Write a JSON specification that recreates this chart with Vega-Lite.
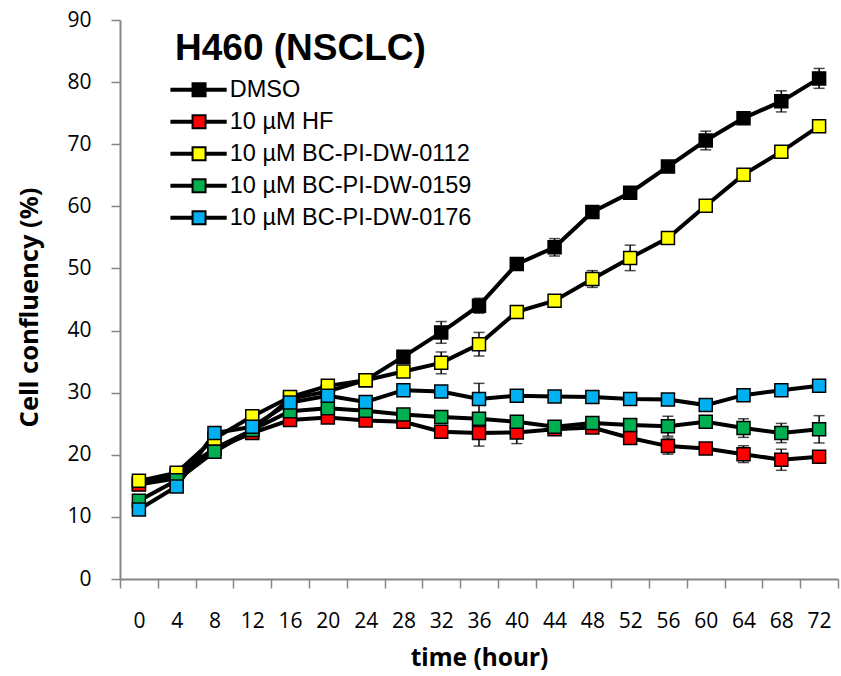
{
"$schema": "https://vega.github.io/schema/vega-lite/v6.json",
"width": 718, "height": 559,
"autosize": "none",
"padding": {"left": 120, "top": 20, "right": 3, "bottom": 97},
"background": "white",
"config": {
 "view": {"stroke": null},
 "axisX": {"tickBand": "extent", "domainColor": "#868686", "domainWidth": 2, "tickColor": "#868686", "tickWidth": 1.5, "tickSize": 9, "labelFont": "Open Sans", "labelFontSize": 21, "labelColor": "black", "labelPadding": 22, "labelAngle": 0, "titleFont": "Noto Sans", "titleFontSize": 24.5, "titleFontWeight": "bold", "titleColor": "black", "titlePadding": 15, "grid": false},
 "axisY": {"domainColor": "#868686", "domainWidth": 2, "tickColor": "#868686", "tickWidth": 1.5, "tickSize": 9, "labelFont": "Open Sans", "labelFontSize": 21, "labelColor": "black", "labelPadding": 20, "titleFont": "Noto Sans", "titleFontSize": 25.5, "titleFontWeight": "bold", "titleColor": "black", "titlePadding": 24, "titleY": 287, "grid": false},
 "legend": {"orient": "none", "legendX": 55, "legendY": 11, "titleFont": "Liberation Sans", "titleFontSize": 37, "titleFontWeight": "bold", "titleColor": "black", "titlePadding": 10, "titleLimit": 600, "labelLimit": 600, "labelFont": "Liberation Sans", "labelFontSize": 23.5, "labelColor": "black", "rowPadding": 7}
},
"data": {"values": [
{"s":"DMSO","t":0,"v":15.3,"lo":14.8,"hi":15.8},
{"s":"DMSO","t":4,"v":16.8,"lo":16.3,"hi":17.3},
{"s":"DMSO","t":8,"v":21.0,"lo":20.5,"hi":21.5},
{"s":"DMSO","t":12,"v":24.0,"lo":23.5,"hi":24.5},
{"s":"DMSO","t":16,"v":29.0,"lo":28.5,"hi":29.5},
{"s":"DMSO","t":20,"v":30.2,"lo":29.7,"hi":30.7},
{"s":"DMSO","t":24,"v":32.0,"lo":31.5,"hi":32.5},
{"s":"DMSO","t":28,"v":35.8,"lo":35.3,"hi":36.3},
{"s":"DMSO","t":32,"v":39.7,"lo":37.95,"hi":41.45},
{"s":"DMSO","t":36,"v":44.0,"lo":42.8,"hi":45.2},
{"s":"DMSO","t":40,"v":50.7,"lo":50.2,"hi":51.2},
{"s":"DMSO","t":44,"v":53.4,"lo":52.0,"hi":54.8},
{"s":"DMSO","t":48,"v":59.1,"lo":58.3,"hi":59.9},
{"s":"DMSO","t":52,"v":62.2,"lo":61.7,"hi":62.7},
{"s":"DMSO","t":56,"v":66.4,"lo":65.7,"hi":67.1},
{"s":"DMSO","t":60,"v":70.6,"lo":69.1,"hi":72.1},
{"s":"DMSO","t":64,"v":74.2,"lo":73.5,"hi":74.9},
{"s":"DMSO","t":68,"v":76.9,"lo":75.2,"hi":78.6},
{"s":"DMSO","t":72,"v":80.6,"lo":79.0,"hi":82.2},
{"s":"10 µM HF","t":0,"v":15.2,"lo":14.7,"hi":15.7},
{"s":"10 µM HF","t":4,"v":16.2,"lo":15.7,"hi":16.7},
{"s":"10 µM HF","t":8,"v":21.0,"lo":20.5,"hi":21.5},
{"s":"10 µM HF","t":12,"v":23.5,"lo":23.0,"hi":24.0},
{"s":"10 µM HF","t":16,"v":25.6,"lo":25.1,"hi":26.1},
{"s":"10 µM HF","t":20,"v":26.0,"lo":25.5,"hi":26.5},
{"s":"10 µM HF","t":24,"v":25.5,"lo":25.0,"hi":26.0},
{"s":"10 µM HF","t":28,"v":25.3,"lo":24.8,"hi":25.8},
{"s":"10 µM HF","t":32,"v":23.7,"lo":23.2,"hi":24.2},
{"s":"10 µM HF","t":36,"v":23.5,"lo":21.4,"hi":25.6},
{"s":"10 µM HF","t":40,"v":23.6,"lo":21.8,"hi":25.4},
{"s":"10 µM HF","t":44,"v":24.1,"lo":23.6,"hi":24.6},
{"s":"10 µM HF","t":48,"v":24.4,"lo":23.9,"hi":24.9},
{"s":"10 µM HF","t":52,"v":22.7,"lo":22.2,"hi":23.2},
{"s":"10 µM HF","t":56,"v":21.4,"lo":20.1,"hi":22.7},
{"s":"10 µM HF","t":60,"v":21.0,"lo":20.5,"hi":21.5},
{"s":"10 µM HF","t":64,"v":20.1,"lo":18.75,"hi":21.45},
{"s":"10 µM HF","t":68,"v":19.2,"lo":17.5,"hi":20.9},
{"s":"10 µM HF","t":72,"v":19.7,"lo":19.2,"hi":20.2},
{"s":"10 µM BC-PI-DW-0112","t":0,"v":15.8,"lo":15.3,"hi":16.3},
{"s":"10 µM BC-PI-DW-0112","t":4,"v":17.1,"lo":16.6,"hi":17.6},
{"s":"10 µM BC-PI-DW-0112","t":8,"v":22.6,"lo":22.1,"hi":23.1},
{"s":"10 µM BC-PI-DW-0112","t":12,"v":26.2,"lo":25.7,"hi":26.7},
{"s":"10 µM BC-PI-DW-0112","t":16,"v":29.3,"lo":28.8,"hi":29.8},
{"s":"10 µM BC-PI-DW-0112","t":20,"v":31.1,"lo":30.6,"hi":31.6},
{"s":"10 µM BC-PI-DW-0112","t":24,"v":32.0,"lo":31.5,"hi":32.5},
{"s":"10 µM BC-PI-DW-0112","t":28,"v":33.4,"lo":32.9,"hi":33.9},
{"s":"10 µM BC-PI-DW-0112","t":32,"v":34.8,"lo":33.05,"hi":36.55},
{"s":"10 µM BC-PI-DW-0112","t":36,"v":37.8,"lo":35.9,"hi":39.7},
{"s":"10 µM BC-PI-DW-0112","t":40,"v":43.0,"lo":42.5,"hi":43.5},
{"s":"10 µM BC-PI-DW-0112","t":44,"v":44.8,"lo":44.3,"hi":45.3},
{"s":"10 µM BC-PI-DW-0112","t":48,"v":48.3,"lo":46.95,"hi":49.65},
{"s":"10 µM BC-PI-DW-0112","t":52,"v":51.7,"lo":49.65,"hi":53.75},
{"s":"10 µM BC-PI-DW-0112","t":56,"v":54.9,"lo":54.0,"hi":55.8},
{"s":"10 µM BC-PI-DW-0112","t":60,"v":60.1,"lo":59.6,"hi":60.6},
{"s":"10 µM BC-PI-DW-0112","t":64,"v":65.1,"lo":64.3,"hi":65.9},
{"s":"10 µM BC-PI-DW-0112","t":68,"v":68.8,"lo":68.3,"hi":69.3},
{"s":"10 µM BC-PI-DW-0112","t":72,"v":72.9,"lo":72.4,"hi":73.4},
{"s":"10 µM BC-PI-DW-0159","t":0,"v":12.6,"lo":12.1,"hi":13.1},
{"s":"10 µM BC-PI-DW-0159","t":4,"v":15.9,"lo":15.4,"hi":16.4},
{"s":"10 µM BC-PI-DW-0159","t":8,"v":20.5,"lo":20.0,"hi":21.0},
{"s":"10 µM BC-PI-DW-0159","t":12,"v":24.0,"lo":23.5,"hi":24.5},
{"s":"10 µM BC-PI-DW-0159","t":16,"v":27.0,"lo":26.5,"hi":27.5},
{"s":"10 µM BC-PI-DW-0159","t":20,"v":27.5,"lo":27.0,"hi":28.0},
{"s":"10 µM BC-PI-DW-0159","t":24,"v":27.1,"lo":26.6,"hi":27.6},
{"s":"10 µM BC-PI-DW-0159","t":28,"v":26.5,"lo":26.0,"hi":27.0},
{"s":"10 µM BC-PI-DW-0159","t":32,"v":26.1,"lo":25.6,"hi":26.6},
{"s":"10 µM BC-PI-DW-0159","t":36,"v":25.8,"lo":25.3,"hi":26.3},
{"s":"10 µM BC-PI-DW-0159","t":40,"v":25.3,"lo":24.8,"hi":25.8},
{"s":"10 µM BC-PI-DW-0159","t":44,"v":24.5,"lo":24.0,"hi":25.0},
{"s":"10 µM BC-PI-DW-0159","t":48,"v":25.1,"lo":24.6,"hi":25.6},
{"s":"10 µM BC-PI-DW-0159","t":52,"v":24.8,"lo":24.3,"hi":25.3},
{"s":"10 µM BC-PI-DW-0159","t":56,"v":24.6,"lo":23.0,"hi":26.2},
{"s":"10 µM BC-PI-DW-0159","t":60,"v":25.3,"lo":24.8,"hi":25.8},
{"s":"10 µM BC-PI-DW-0159","t":64,"v":24.3,"lo":22.8,"hi":25.8},
{"s":"10 µM BC-PI-DW-0159","t":68,"v":23.5,"lo":21.95,"hi":25.05},
{"s":"10 µM BC-PI-DW-0159","t":72,"v":24.1,"lo":21.9,"hi":26.3},
{"s":"10 µM BC-PI-DW-0176","t":0,"v":11.2,"lo":10.7,"hi":11.7},
{"s":"10 µM BC-PI-DW-0176","t":4,"v":14.9,"lo":14.4,"hi":15.4},
{"s":"10 µM BC-PI-DW-0176","t":8,"v":23.5,"lo":23.0,"hi":24.0},
{"s":"10 µM BC-PI-DW-0176","t":12,"v":24.5,"lo":24.0,"hi":25.0},
{"s":"10 µM BC-PI-DW-0176","t":16,"v":28.4,"lo":27.9,"hi":28.9},
{"s":"10 µM BC-PI-DW-0176","t":20,"v":29.5,"lo":29.0,"hi":30.0},
{"s":"10 µM BC-PI-DW-0176","t":24,"v":28.5,"lo":28.0,"hi":29.0},
{"s":"10 µM BC-PI-DW-0176","t":28,"v":30.4,"lo":29.9,"hi":30.9},
{"s":"10 µM BC-PI-DW-0176","t":32,"v":30.2,"lo":29.7,"hi":30.7},
{"s":"10 µM BC-PI-DW-0176","t":36,"v":29.0,"lo":26.5,"hi":31.5},
{"s":"10 µM BC-PI-DW-0176","t":40,"v":29.5,"lo":29.0,"hi":30.0},
{"s":"10 µM BC-PI-DW-0176","t":44,"v":29.4,"lo":28.9,"hi":29.9},
{"s":"10 µM BC-PI-DW-0176","t":48,"v":29.3,"lo":28.8,"hi":29.8},
{"s":"10 µM BC-PI-DW-0176","t":52,"v":29.0,"lo":28.5,"hi":29.5},
{"s":"10 µM BC-PI-DW-0176","t":56,"v":28.9,"lo":28.4,"hi":29.4},
{"s":"10 µM BC-PI-DW-0176","t":60,"v":28.0,"lo":27.5,"hi":28.5},
{"s":"10 µM BC-PI-DW-0176","t":64,"v":29.6,"lo":29.1,"hi":30.1},
{"s":"10 µM BC-PI-DW-0176","t":68,"v":30.4,"lo":29.9,"hi":30.9},
{"s":"10 µM BC-PI-DW-0176","t":72,"v":31.1,"lo":30.6,"hi":31.6}
]},
"encoding": {
 "x": {"field": "t", "type": "ordinal", "bandPosition": 0.5, "sort": "ascending", "title": "time (hour)", "scale": {"type": "band", "paddingInner": 0, "paddingOuter": 0}}
},
"layer": [
 {"mark": {"type": "line", "color": "black", "strokeWidth": 4},
  "encoding": {"y": {"field": "v", "type": "quantitative", "title": "Cell confluency (%)", "scale": {"domain": [0, 90], "nice": false}, "axis": {"values": [0,10,20,30,40,50,60,70,80,90]}}, "detail": {"field": "s", "type": "nominal"}}},
 {"mark": {"type": "rule", "color": "black", "strokeWidth": 1.5},
  "encoding": {"y": {"field": "lo", "type": "quantitative", "title": "Cell confluency (%)", "scale": {"domain": [0, 90], "nice": false}, "axis": {"values": [0,10,20,30,40,50,60,70,80,90]}}, "y2": {"field": "hi"}}},
 {"mark": {"type": "tick", "color": "black", "thickness": 1.5, "size": 11, "orient": "horizontal"},
  "encoding": {"y": {"field": "lo", "type": "quantitative", "title": "Cell confluency (%)", "scale": {"domain": [0, 90], "nice": false}, "axis": {"values": [0,10,20,30,40,50,60,70,80,90]}}}},
 {"mark": {"type": "tick", "color": "black", "thickness": 1.5, "size": 11, "orient": "horizontal"},
  "encoding": {"y": {"field": "hi", "type": "quantitative", "title": "Cell confluency (%)", "scale": {"domain": [0, 90], "nice": false}, "axis": {"values": [0,10,20,30,40,50,60,70,80,90]}}}},
 {"mark": {"type": "point", "shape": "square", "filled": true, "size": 169, "stroke": "black", "strokeWidth": 1.5, "opacity": 1},
  "encoding": {"y": {"field": "v", "type": "quantitative", "title": "Cell confluency (%)", "scale": {"domain": [0, 90], "nice": false}, "axis": {"values": [0,10,20,30,40,50,60,70,80,90]}},
   "fill": {"field": "s", "type": "nominal",
    "scale": {"domain": ["DMSO", "10 µM HF", "10 µM BC-PI-DW-0112", "10 µM BC-PI-DW-0159", "10 µM BC-PI-DW-0176"], "range": ["#000000", "#FF0000", "#FFFF00", "#00B050", "#00B0F0"]},
    "legend": {"title": "H460 (NSCLC)", "symbolType": "M-4.25,-0.17H-1V0.17H-4.25Z M1,-0.17H4.1V0.17H1Z M-1,-1H1V1H-1Z", "symbolSize": 169, "symbolStrokeColor": "black", "symbolStrokeWidth": 2, "symbolOpacity": 1, "symbolOffset": 12.3, "labelOffset": 19}}}}
]
}
